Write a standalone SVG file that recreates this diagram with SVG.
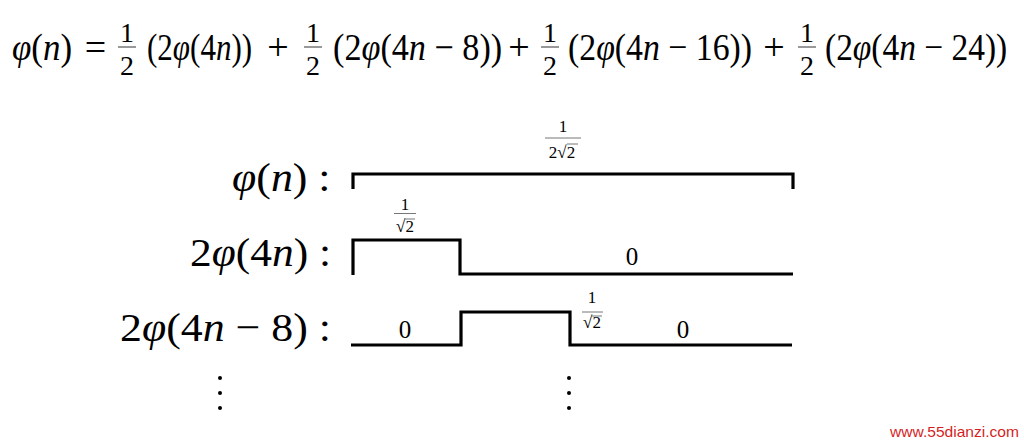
<svg xmlns="http://www.w3.org/2000/svg" width="1024" height="443" viewBox="0 0 1024 443">
<style>
text{font-family:"Liberation Serif","DejaVu Serif",serif;fill:#000}
.eq{font-size:38px}
.lb{font-size:41px}
.it{font-style:italic}
.fr{font-size:28px;text-anchor:middle}
.sf{font-size:17px;text-anchor:middle}
.z{font-size:25px;text-anchor:middle}
.bar{stroke:#555;stroke-width:1.2}
.sbar{stroke:#777;stroke-width:1}
.wave{fill:none;stroke:#000;stroke-width:3.2;stroke-linejoin:miter;stroke-linecap:butt}
.wm{font-family:"Liberation Sans",Arial,sans-serif;font-size:15px;fill:#d41f1f}
</style>
<rect width="1024" height="443" fill="#fff"/>
<g id="equation">
<text class="eq" transform="translate(12,60) scale(0.92,1)"><tspan class="it">φ</tspan>(<tspan class="it">n</tspan>)</text>
<text class="eq" x="95.5" y="60" text-anchor="middle">=</text>
<text class="fr" x="127" y="42">1</text><line class="bar" x1="118" y1="47" x2="136" y2="47"/><text class="fr" x="127" y="75">2</text>
<text class="eq" transform="translate(147,60) scale(0.817,1)">(2<tspan class="it">φ</tspan>(4<tspan class="it">n</tspan>))</text>
<text class="eq" x="278" y="60" text-anchor="middle">+</text>
<text class="fr" x="313" y="42">1</text><line class="bar" x1="304" y1="47" x2="322" y2="47"/><text class="fr" x="313" y="75">2</text>
<text class="eq" transform="translate(333,60) scale(0.9,1)">(2<tspan class="it">φ</tspan>(4<tspan class="it">n</tspan> − 8))</text>
<text class="eq" x="519" y="60" text-anchor="middle">+</text>
<text class="fr" x="550" y="42">1</text><line class="bar" x1="541" y1="47" x2="559" y2="47"/><text class="fr" x="550" y="75">2</text>
<text class="eq" transform="translate(568,60) scale(0.889,1)">(2<tspan class="it">φ</tspan>(4<tspan class="it">n</tspan> − 16))</text>
<text class="eq" x="774" y="60" text-anchor="middle">+</text>
<text class="fr" x="807" y="42">1</text><line class="bar" x1="798" y1="47" x2="816" y2="47"/><text class="fr" x="807" y="75">2</text>
<text class="eq" transform="translate(825,60) scale(0.88,1)">(2<tspan class="it">φ</tspan>(4<tspan class="it">n</tspan> − 24))</text>
</g>
<g id="row-phi">
<text class="lb" transform="translate(232,191) scale(1.07,1)"><tspan class="it">φ</tspan>(<tspan class="it">n</tspan>) :</text>
<text class="sf" x="563" y="132">1</text><line class="sbar" x1="545" y1="138" x2="581" y2="138"/>
<text class="sf" x="562" y="158">2√2</text><line class="sbar" x1="567" y1="144" x2="578" y2="144"/>
</g>
<g id="row-2phi4n">
<text class="lb" transform="translate(190,266) scale(1.06,1)">2<tspan class="it">φ</tspan>(4<tspan class="it">n</tspan>) :</text>
<text class="sf" x="405" y="210">1</text><line class="sbar" x1="394" y1="213.5" x2="416" y2="213.5"/>
<text class="sf" x="405" y="232">√2</text><line class="sbar" x1="404" y1="219" x2="415" y2="219"/>
<text class="z" x="632" y="265">0</text>
</g>
<g id="row-2phi4n-8">
<text class="lb" transform="translate(120,341) scale(1.07,1)">2<tspan class="it">φ</tspan>(4<tspan class="it">n</tspan> − 8) :</text>
<text class="z" x="405" y="338">0</text>
<text class="sf" x="592" y="303">1</text><line class="sbar" x1="582" y1="312" x2="603" y2="312"/>
<text class="sf" x="592" y="328">√2</text><line class="sbar" x1="591" y1="316" x2="602" y2="316"/>
<text class="z" x="683" y="338">0</text>
</g>
<g id="waveforms">
<path class="wave" d="M353,189 V174 H793 V189"/>
<path class="wave" d="M353,275 V240 H460 V274 H793"/>
<path class="wave" d="M351,345 H461 V312 H570 V345 H792"/>
</g>
<g id="dots-left" fill="#000">
<circle cx="220" cy="378" r="2"/><circle cx="220" cy="393" r="2"/><circle cx="220" cy="408" r="2"/>
</g>
<g id="dots-right" fill="#000">
<circle cx="569" cy="378" r="2"/><circle cx="569" cy="393" r="2"/><circle cx="569" cy="408" r="2"/>
</g>
<text class="wm" x="890" y="437" textLength="129" lengthAdjust="spacingAndGlyphs">www.55dianzi.com</text>
</svg>
